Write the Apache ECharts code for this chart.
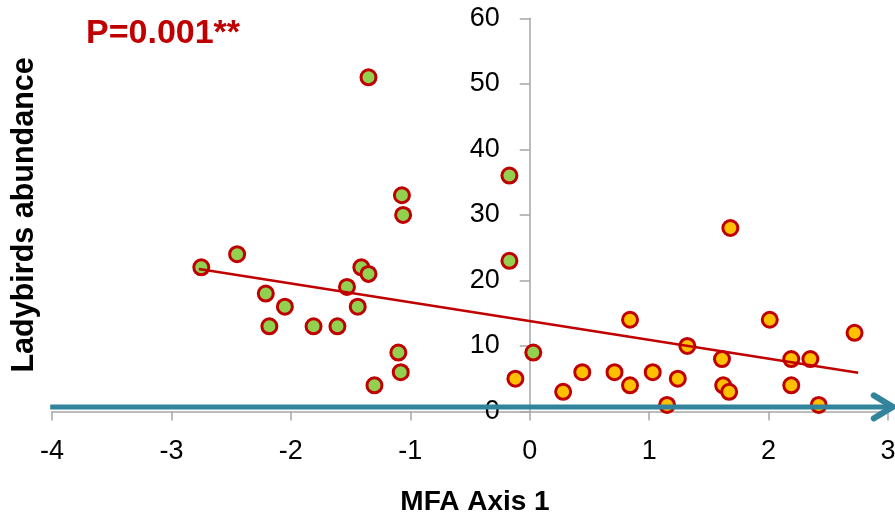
<!DOCTYPE html>
<html>
<head>
<meta charset="utf-8">
<script src="https://cdn.jsdelivr.net/npm/echarts@6/dist/echarts.min.js"></script>
<style>
  html, body { margin: 0; padding: 0; background: #fff; }
  #chart { width: 895px; height: 519px; }
</style>
</head>
<body>
<div id="chart"></div>
<script>
// Group 1 (green markers): MFA axis 1 score and ladybird count
const greenX = [-2.75, -2.45, -2.21, -2.18, -2.05, -1.81, -1.61, -1.53, -1.44, -1.41,
                -1.35, -1.35, -1.30, -1.10, -1.08, -1.07, -1.06, -0.17, -0.17, 0.03];
const greenY = [22, 24, 18, 13, 16, 13, 13, 19, 16, 22,
                21, 51, 4, 9, 6, 33, 30, 36, 23, 9];

// Group 2 (orange markers)
const yellowX = [-0.12, 0.28, 0.44, 0.71, 0.84, 0.84, 1.03, 1.15, 1.24, 1.32,
                 1.61, 1.62, 1.67, 1.68, 2.01, 2.19, 2.19, 2.35, 2.42, 2.72];
const yellowY = [5, 3, 6, 6, 4, 14, 6, 1, 5, 10,
                 8, 4, 3, 28, 14, 8, 4, 8, 1, 12];

// Fitted linear trend, endpoints
const trendX = [-2.77, 2.75];
const trendY = [21.75, 5.9];

// Axis ticks
const xTicks = [-4, -3, -2, -1, 0, 1, 2, 3];
const yTicks = [0, 10, 20, 30, 40, 50, 60];

const pLabel = 'P=0.001**';

const zip = (xs, ys) => xs.map((x, i) => [x, ys[i]]);

const chart = echarts.init(document.getElementById('chart'), null, { renderer: 'canvas' });

const FONT = '"Liberation Sans", Arial, sans-serif';
const AXIS_GREY = '#A6A6A6';
const RED = '#C00000';

const GRID = { left: 52, right: 7, top: 18.3, bottom: 107.5 };
// the vertical axis crosses the horizontal one at x = 0
const plotWidth = 895 - GRID.left - GRID.right;
const yAxisShift = plotWidth * (0 - xTicks[0]) / (xTicks[xTicks.length - 1] - xTicks[0]);

chart.setOption({
  animation: false,
  backgroundColor: '#ffffff',
  title: {
    text: pLabel,
    left: 86,
    top: 17,
    padding: 0,
    textStyle: { fontFamily: FONT, fontSize: 34, fontWeight: 'bold', color: RED }
  },
  grid: Object.assign({ containLabel: false, outerBoundsMode: 'none' }, GRID),
  xAxis: {
    type: 'value',
    min: xTicks[0],
    max: xTicks[xTicks.length - 1],
    interval: 1,
    name: 'MFA Axis 1',
    nameLocation: 'middle',
    nameGap: 77,
    nameTextStyle: { fontFamily: FONT, fontSize: 28, fontWeight: 'bold', color: '#000', padding: [0, 0, 0, 10] },
    axisLine: { show: true, onZero: false, lineStyle: { color: AXIS_GREY, width: 1.5 } },
    axisTick: { show: true, inside: false, length: 9, lineStyle: { color: AXIS_GREY, width: 1.5 } },
    axisLabel: { fontFamily: FONT, fontSize: 27, color: '#000', margin: 27 },
    splitLine: { show: false }
  },
  yAxis: {
    type: 'value',
    min: yTicks[0],
    max: yTicks[yTicks.length - 1],
    interval: 10,
    offset: -yAxisShift,
    name: 'Ladybirds abundance',
    nameLocation: 'middle',
    nameGap: 490,
    nameRotate: 90,
    nameTextStyle: { fontFamily: FONT, fontSize: 30.5, fontWeight: 'bold', color: '#000' },
    axisLine: { show: true, onZero: false, lineStyle: { color: AXIS_GREY, width: 1.5 } },
    axisTick: { show: true, inside: false, length: 10, lineStyle: { color: AXIS_GREY, width: 1.5 } },
    axisLabel: { fontFamily: FONT, fontSize: 27, color: '#000', margin: 30 },
    splitLine: { show: false }
  },
  series: [
    {
      type: 'scatter',
      data: zip(greenX, greenY),
      symbol: 'circle',
      symbolSize: 15,
      itemStyle: { color: '#92D050', borderColor: RED, borderWidth: 3, opacity: 1 },
      z: 3
    },
    {
      type: 'scatter',
      data: zip(yellowX, yellowY),
      symbol: 'circle',
      symbolSize: 15,
      itemStyle: { color: '#FFC000', borderColor: RED, borderWidth: 3, opacity: 1 },
      z: 3
    },
    {
      type: 'line',
      data: zip(trendX, trendY),
      showSymbol: false,
      symbol: 'none',
      lineStyle: { color: RED, width: 2.5 },
      z: 4
    }
  ]
});

// Teal arrow running along the horizontal axis, drawn above everything
function drawArrow() {
  const start = chart.convertToPixel({ gridIndex: 0 }, [-4.015, 0.7]);
  const tip = chart.convertToPixel({ gridIndex: 0 }, [3.04, 0.7]);
  const teal = '#31849B';
  chart.setOption({
    graphic: [
      {
        type: 'polyline',
        z: 100,
        shape: { points: [[start[0], start[1]], [tip[0] - 3, tip[1]]] },
        style: { stroke: teal, lineWidth: 5, fill: null }
      },
      {
        type: 'polyline',
        z: 100,
        shape: { points: [[tip[0] - 19, tip[1] - 11.5], [tip[0], tip[1]], [tip[0] - 19, tip[1] + 11.5]] },
        style: { stroke: teal, lineWidth: 6, fill: null, lineCap: 'round', lineJoin: 'round' }
      }
    ]
  });
}
drawArrow();
</script>
</body>
</html>
